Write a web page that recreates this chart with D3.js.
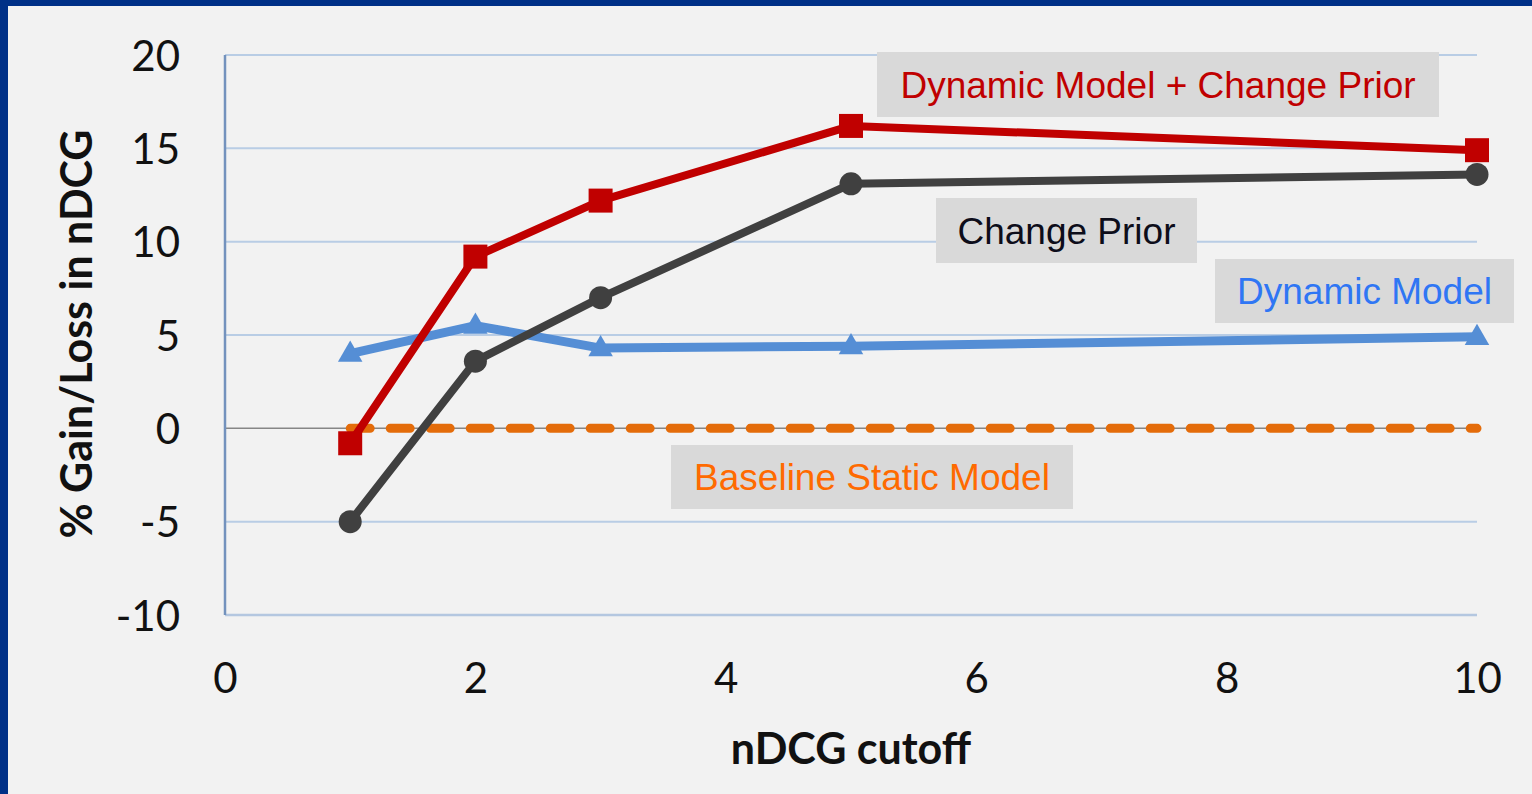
<!DOCTYPE html>
<meta charset="utf-8">
<style>
body { margin: 0; background: #f2f2f2; overflow: hidden; }
.tick text { font-family: Lato, "Open Sans", sans-serif; fill: #111; }
.title { font-family: Lato, "Open Sans", sans-serif; font-weight: bold; fill: #111; }
.lbl text { font-family: "Liberation Sans", Arial, sans-serif; }
</style>
<body>
<script src="https://cdn.jsdelivr.net/npm/d3@7"></script>
<script>
var cutoffs = [1, 2, 3, 5, 10];
var dynChange = [-0.8, 9.2, 12.2, 16.2, 14.9];
var changePrior = [-5.0, 3.6, 7.0, 13.1, 13.6];
var dynModel = [4.0, 5.5, 4.3, 4.4, 4.9];
var baseline = [0, 0, 0, 0, 0];
var xTicks = [0, 2, 4, 6, 8, 10];
var yTicks = [-10, -5, 0, 5, 10, 15, 20];

var width = 1532, height = 794;

var svg = d3.select("body").append("svg")
    .attr("width", width)
    .attr("height", height);

svg.append("rect").attr("width", width).attr("height", height).attr("fill", "#f2f2f2");
// dark blue frame on top and left
svg.append("rect").attr("width", width).attr("height", 6).attr("fill", "#003087");
svg.append("rect").attr("width", 8).attr("height", height).attr("fill", "#003087");

var x = d3.scaleLinear().domain([0, 10]).range([225, 1477]);
var y = d3.scaleLinear().domain([-10, 20]).range([615, 55]);

// gridlines
svg.append("g").selectAll("line")
    .data(yTicks.filter(function(d) { return d !== 0 && d !== -10; }))
  .enter().append("line")
    .attr("x1", x(0)).attr("x2", x(10))
    .attr("y1", function(d) { return y(d); })
    .attr("y2", function(d) { return y(d); })
    .attr("stroke", "#b9cde5").attr("stroke-width", 2);

// bottom line
svg.append("line")
    .attr("x1", x(0)).attr("x2", x(10))
    .attr("y1", y(-10)).attr("y2", y(-10))
    .attr("stroke", "#b4c7e0").attr("stroke-width", 2.5);

// zero line
svg.append("line")
    .attr("x1", x(0)).attr("x2", x(10))
    .attr("y1", y(0)).attr("y2", y(0))
    .attr("stroke", "#868686").attr("stroke-width", 1.5);

// left axis
svg.append("line")
    .attr("x1", x(0)).attr("x2", x(0))
    .attr("y1", y(20)).attr("y2", y(-10))
    .attr("stroke", "#7392bd").attr("stroke-width", 2.5);

var fmt = function(d) { return String(d); };

var yAxis = svg.append("g")
    .attr("transform", "translate(" + (x(0) - 45) + ",0)")
    .call(d3.axisLeft(y).tickValues(yTicks).tickFormat(fmt).tickSize(0).tickPadding(0));
yAxis.select(".domain").remove();
yAxis.selectAll("text").style("font-size", "42px").attr("dy", "0.36em");

var xAxis = svg.append("g")
    .attr("transform", "translate(0," + (y(-10) + 48) + ")")
    .call(d3.axisBottom(x).tickValues(xTicks).tickFormat(fmt).tickSize(0).tickPadding(0));
xAxis.select(".domain").remove();
xAxis.selectAll("text").style("font-size", "42px");

svg.append("text")
    .attr("class", "title")
    .attr("x", 851).attr("y", 764)
    .attr("text-anchor", "middle")
    .style("font-size", "43px")
    .text("nDCG cutoff");

svg.append("text")
    .attr("class", "title")
    .attr("transform", "translate(92,334) rotate(-90)")
    .attr("text-anchor", "middle")
    .style("font-size", "43px")
    .text("% Gain/Loss in nDCG");

function pts(vals) {
  return cutoffs.map(function(c, i) { return [c, vals[i]]; });
}
var line = d3.line()
    .x(function(d) { return x(d[0]); })
    .y(function(d) { return y(d[1]); });

// baseline dashed
svg.append("path")
    .attr("d", line(pts(baseline)))
    .attr("fill", "none")
    .attr("stroke", "#e46c0a")
    .attr("stroke-width", 9)
    .attr("stroke-dasharray", "20,20")
    .attr("stroke-linecap", "round");

// dynamic model (blue, triangles)
svg.append("path")
    .attr("d", line(pts(dynModel)))
    .attr("fill", "none")
    .attr("stroke", "#558ed5")
    .attr("stroke-width", 9)
    .attr("stroke-linejoin", "round");
svg.append("g").selectAll("path")
    .data(pts(dynModel))
  .enter().append("path")
    .attr("d", d3.symbol().type(d3.symbolTriangle).size(260))
    .attr("transform", function(d) { return "translate(" + x(d[0]) + "," + (y(d[1]) + 1) + ")"; })
    .attr("fill", "#558ed5");

// change prior (dark gray, circles)
svg.append("path")
    .attr("d", line(pts(changePrior)))
    .attr("fill", "none")
    .attr("stroke", "#404040")
    .attr("stroke-width", 8)
    .attr("stroke-linejoin", "round");
svg.append("g").selectAll("circle")
    .data(pts(changePrior))
  .enter().append("circle")
    .attr("cx", function(d) { return x(d[0]); })
    .attr("cy", function(d) { return y(d[1]); })
    .attr("r", 11.5)
    .attr("fill", "#404040");

// dynamic model + change prior (red, squares)
svg.append("path")
    .attr("d", line(pts(dynChange)))
    .attr("fill", "none")
    .attr("stroke", "#c00000")
    .attr("stroke-width", 8)
    .attr("stroke-linejoin", "round");
svg.append("g").selectAll("rect")
    .data(pts(dynChange))
  .enter().append("rect")
    .attr("x", function(d) { return x(d[0]) - 12; })
    .attr("y", function(d) { return y(d[1]) - 12; })
    .attr("width", 24).attr("height", 24)
    .attr("fill", "#c00000");

// series labels
var labels = [
  {text: "Dynamic Model + Change Prior", color: "#c00000", x0: 877, x1: 1439, y0: 52, y1: 117},
  {text: "Change Prior", color: "#0d0d1a", x0: 936, x1: 1197, y0: 198, y1: 263},
  {text: "Dynamic Model", color: "#2f76f4", x0: 1215, x1: 1514, y0: 259, y1: 323},
  {text: "Baseline Static Model", color: "#ff6a00", x0: 671, x1: 1073, y0: 445, y1: 509}
];
var lg = svg.append("g").attr("class", "lbl").selectAll("g")
    .data(labels)
  .enter().append("g");
lg.append("rect")
    .attr("x", function(d) { return d.x0; })
    .attr("y", function(d) { return d.y0; })
    .attr("width", function(d) { return d.x1 - d.x0; })
    .attr("height", function(d) { return d.y1 - d.y0; })
    .attr("fill", "#d9d9d9");
lg.append("text")
    .attr("x", function(d) { return (d.x0 + d.x1) / 2; })
    .attr("y", function(d) { return (d.y0 + d.y1) / 2; })
    .attr("dy", "0.36em")
    .attr("text-anchor", "middle")
    .style("font-size", "37px")
    .attr("fill", function(d) { return d.color; })
    .text(function(d) { return d.text; });
</script>
